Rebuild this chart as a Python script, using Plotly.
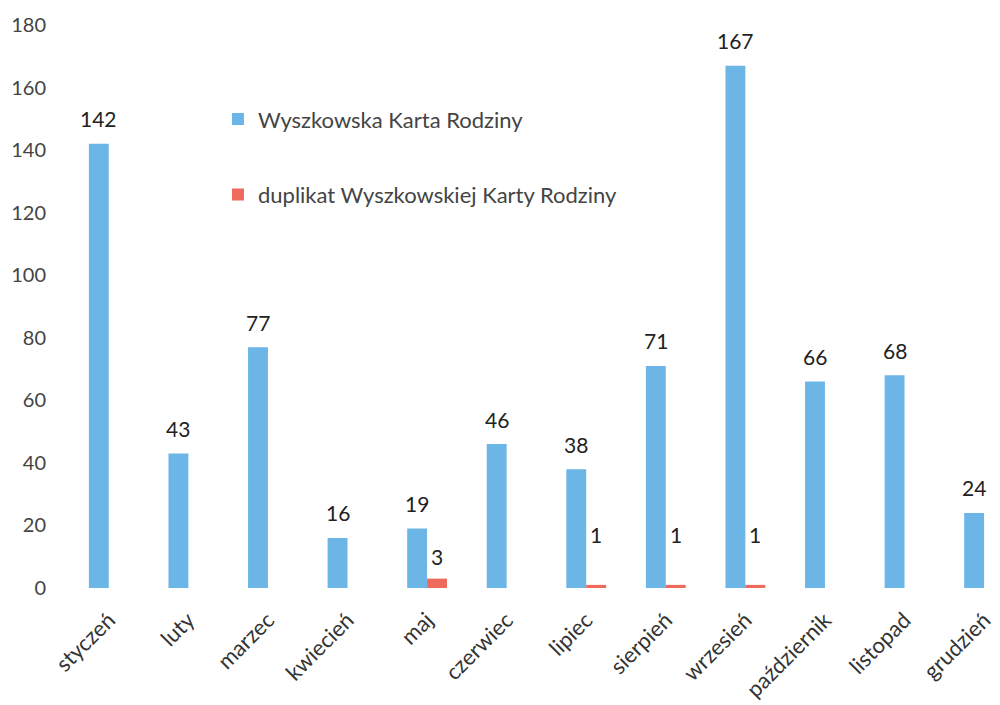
import plotly.graph_objects as go

months = ["styczeń", "luty", "marzec", "kwiecień", "maj", "czerwiec", "lipiec",
          "sierpień", "wrzesień", "październik", "listopad", "grudzień"]
karta = [142, 43, 77, 16, 19, 46, 38, 71, 167, 66, 68, 24]
duplikat = [None, None, None, None, 3, None, 1, 1, 1, None, None, None]

BLUE = "#6BB6E6"
RED = "#EE6A5C"
FONT = "Lato, 'Open Sans', sans-serif"

fig = go.Figure()
fig.add_trace(go.Bar(x=months, y=karta, name="Wyszkowska Karta Rodziny",
                     marker=dict(color=BLUE, line=dict(width=0)), legendgroup="a"))
fig.add_trace(go.Bar(x=months, y=duplikat, name="duplikat Wyszkowskiej Karty Rodziny",
                     marker=dict(color=RED, line=dict(width=0)), legendgroup="b"))

annotations = []
for m, v in zip(months, karta):
    annotations.append(dict(x=m, y=v, xref="x", yref="y", text=str(v), showarrow=False,
                            xshift=-10, yshift=25, font=dict(size=21, color="#222", family=FONT)))
for m, v in zip(months, duplikat):
    if v is None:
        continue
    shift = 22 if v >= 3 else 50
    annotations.append(dict(x=m, y=v, xref="x", yref="y", text=str(v), showarrow=False,
                            xshift=10, yshift=shift, font=dict(size=21, color="#222", family=FONT)))

fig.update_layout(
    width=1000, height=705,
    barmode="group", bargap=0.5, bargroupgap=0,
    plot_bgcolor="white", paper_bgcolor="white",
    margin=dict(l=69, r=0, t=25, b=117, autoexpand=False),
    font=dict(family=FONT, color="#444"),
    annotations=annotations,
    legend=dict(x=0.160, y=0.870, xanchor="left", yanchor="top",
                font=dict(size=22, color="#444", family=FONT),
                tracegroupgap=44, bgcolor="rgba(0,0,0,0)"),
    xaxis=dict(range=[-0.5, 11.2], tickangle=-45, showgrid=False, showline=False,
               ticks="", automargin=False, ticklabelstandoff=14,
               tickfont=dict(size=22, color="#333", family=FONT)),
    yaxis=dict(range=[0, 180], dtick=20, showgrid=False, showline=False, zeroline=False,
               ticks="", automargin=False,
               tickfont=dict(size=20, color="#444", family=FONT), ticklabelstandoff=22),
)

fig.write_html("out.html", config={"displayModeBar": False},
               post_script="document.body.style.margin='0';document.body.style.overflow='hidden';")
